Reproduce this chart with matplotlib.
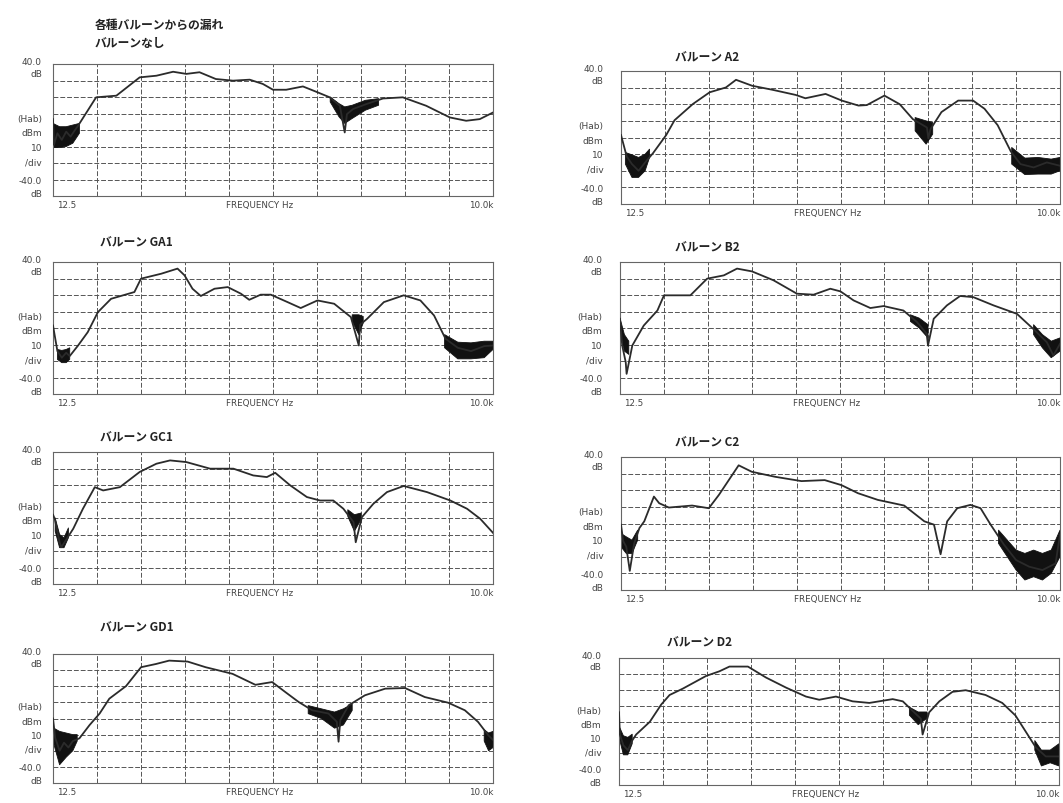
import numpy as np
import matplotlib
matplotlib.use("Agg")
import matplotlib.pyplot as plt

plt.rcParams['font.family'] = ['Noto Sans CJK JP', 'DejaVu Sans']

# x in grid divisions (0 = 12.5 Hz, 10 = 10.0 kHz), y in dB (10 dB/div)
nb_x = [0, 0.02, 0.1, 0.2, 0.3, 0.4, 0.5, 0.57, 0.98, 1.44, 1.97, 2.35, 2.73, 3.03, 3.33, 3.7,
        4.09, 4.47, 4.77, 5.0, 5.3, 5.68, 5.98, 6.29, 6.52, 6.63, 6.68, 6.82, 7.12, 7.5, 7.95,
        8.48, 9.02, 9.39, 9.7, 10]
nb_db = [6.6, -9, -2, -6, -1, -4, 0, 2.6, 19.8, 20.8, 31.9, 32.9, 35.3, 34, 35, 30.9,
         29.9, 30.5, 27.9, 24.4, 24.4, 26.4, 23.2, 19.8, 14.7, -1.5, 9.6, 12.7, 15.7, 19.1, 19.8,
         14.7, 7.6, 5.6, 6.6, 10.6]
nb_nx = [0, 0.15, 0.3, 0.45, 0.6, np.nan, 6.3, 6.5, 6.63, 6.8, 7.1, 7.4]
nb_nlo = [-10.6, -10.6, -10, -8, -2, np.nan, 17, 8, 4, 7, 12, 15]
nb_nhi = [4, 2, 2, 3, 4, np.nan, 20, 16, 14, 15, 18, 19]

ga1_x = [0, 0.1, 0.2, 0.3, 0.38, 0.57, 0.79, 1.02, 1.32, 1.85, 2.0, 2.46, 2.83, 2.99, 3.17,
         3.36, 3.67, 3.97, 4.27, 4.46, 4.72, 4.95, 5.33, 5.63, 6.01, 6.39, 6.77, 6.95, 6.98,
         7.14, 7.52, 7.97, 8.35, 8.66, 8.92, 9.2, 9.5, 9.8, 10]
ga1_db = [1.5, -14, -18, -15, -17, -10.6, -2.5, 9.6, 17.7, 21.8, 29.9, 32.9, 36, 31.9, 23.8,
          19.4, 23.8, 24.8, 20.8, 17.1, 20.2, 20.2, 15.7, 12.1, 16.7, 14.7, 6.6, -10.6, 2,
          5.6, 15.7, 19.8, 16.7, 7.6, -6.5, -12, -14, -11, -10.6]
ga1_nx = [0.1, 0.2, 0.3, 0.38, np.nan, 6.8, 6.95, 7.05, np.nan, 8.9, 9.2, 9.5, 9.8, 10]
ga1_nlo = [-19, -21, -21, -19, np.nan, 4, -4, 3, np.nan, -12, -18.7, -18.7, -18, -13]
ga1_nhi = [-13, -13.6, -13, -12, np.nan, 8, 8, 7, np.nan, -4, -8.6, -9, -8, -8]

gc1_x = [0, 0.04, 0.15, 0.19, 0.46, 0.68, 0.95, 1.14, 1.52, 1.97, 2.35, 2.66, 3.03, 3.57, 4.1,
         4.55, 4.86, 5.05, 5.39, 5.77, 6.07, 6.37, 6.6, 6.83, 6.88, 7.02, 7.28, 7.59, 7.97,
         8.5, 9.03, 9.41, 9.71, 10]
gc1_db = [2, -0.5, -14.7, -17.7, -6.5, 5.6, 18.7, 16.7, 18.7, 27.9, 32.9, 34.9, 33.9, 29.9, 29.9,
          25.8, 24.8, 27.4, 19.8, 12.7, 10.6, 10.6, 5.6, -2.5, -14.7, 0.5, 8.6, 15.7, 19.4,
          15.7, 10.6, 5.6, -0.5, -9]
gc1_nx = [0.05, 0.15, 0.25, 0.35, np.nan, 6.7, 6.85, 7.0]
gc1_nlo = [-8, -18, -18, -12, np.nan, 1, -8, -1]
gc1_nhi = [0, -10, -12, -6, np.nan, 5, 2, 3]

gd1_x = [0, 0.05, 0.15, 0.25, 0.35, 0.45, 0.6, 0.83, 1.06, 1.28, 1.66, 2.0, 2.34, 2.64, 3.06,
         3.47, 4.08, 4.6, 4.98, 5.28, 5.58, 5.89, 6.26, 6.45, 6.49, 6.53, 6.72, 7.09, 7.55,
         8.0, 8.45, 8.98, 9.36, 9.66, 9.89, 10]
gd1_db = [0, -12, -20, -15, -18, -14, -12.3, -4.1, 3.1, 12.3, 20.1, 31.8, 33.8, 35.9, 35.3,
          31.8, 27.7, 20.9, 22.6, 16.4, 10.3, 5.1, 3.1, -2, -14.4, -1, 8.2, 14.4, 18.5,
          18.9, 13.3, 9.8, 5.1, -2.1, -10.3, -13.3]
gd1_nx = [0.02, 0.15, 0.3, 0.45, 0.55, np.nan, 5.8, 6.1, 6.4, 6.6, 6.8, np.nan, 9.8, 9.9, 10]
gd1_nlo = [-16, -28.7, -24, -20, -14, np.nan, 3, 0, -6, -4, 5, np.nan, -14, -20, -18]
gd1_nhi = [-6, -8, -9, -10, -10, np.nan, 8, 6, 4, 6, 9, np.nan, -7, -9, -8]

a2_x = [0, 0.13, 0.25, 0.4, 0.55, 0.73, 1.03, 1.22, 1.64, 2.02, 2.39, 2.62, 2.99, 3.45, 3.98,
        4.2, 4.66, 5.03, 5.41, 5.6, 6.0, 6.35, 6.65, 6.97, 7.0, 7.05, 7.3, 7.68, 8.02, 8.28,
        8.58, 8.88, 9.1, 9.4, 9.7, 10]
a2_db = [1.5, -11.4, -16, -20, -15, -9.4, 1.5, 10.4, 20.2, 27.2, 30.1, 34.7, 31.1, 28.7, 25.6,
         23.6, 26.2, 22.2, 19.2, 19.5, 25.2, 20, 11, 6, -0.5, 5, 15.3, 22.2, 22.2, 17.3,
         7.4, -8.4, -16, -18, -15, -17]
a2_nx = [0.1, 0.25, 0.4, 0.55, 0.65, np.nan, 6.7, 6.95, 7.1, np.nan, 8.9, 9.2, 9.5, 9.8, 10]
a2_nlo = [-16, -24, -24, -20, -12, np.nan, 4, -4, 2, np.nan, -16, -22.3, -22, -22, -20]
a2_nhi = [-9, -10.4, -12, -10, -7, np.nan, 12, 10, 9, np.nan, -6, -12.4, -12, -13, -12]

b2_x = [0, 0.05, 0.13, 0.15, 0.28, 0.54, 0.85, 1.0, 1.6, 1.98, 2.36, 2.66, 3.0, 3.49, 4.02,
        4.4, 4.78, 5.01, 5.31, 5.69, 5.99, 6.44, 6.75, 6.97, 7.0, 7.13, 7.43, 7.73, 8.03,
        8.49, 9.02, 9.39, 9.7, 9.85, 10]
b2_db = [5.6, -10.6, -20.7, -27.8, -10.6, 1.5, 10.6, 19.8, 19.8, 29.9, 31.9, 36, 34.3, 28.9,
         20.8, 20.2, 23.8, 22.2, 16.7, 12.1, 13.3, 10.6, 3.6, -3.5, -10.6, 5.6, 13.7, 19.4,
         18.7, 13.7, 8.6, -0.5, -8.6, -16.7, -9.6]
b2_nx = [0.0, 0.1, 0.2, np.nan, 6.6, 6.8, 7.0, np.nan, 9.4, 9.6, 9.8, 10]
b2_nlo = [-2, -14, -16, np.nan, 4, 0, -6, np.nan, -4, -12, -18, -14]
b2_nhi = [6, -4, -8, np.nan, 8, 6, 2, np.nan, 2, -4, -8, -6]

c2_x = [0, 0.05, 0.12, 0.2, 0.3, 0.42, 0.53, 0.75, 0.87, 1.09, 1.62, 2.0, 2.23, 2.68, 2.98,
        3.51, 4.11, 4.64, 5.02, 5.4, 5.85, 6.45, 6.91, 7.13, 7.28, 7.43, 7.66, 7.96, 8.19,
        8.42, 8.72, 9.0, 9.3, 9.6, 9.9, 10]
c2_db = [-0.7, -10.6, -14, -28.5, -12, -2.7, 1.3, 16.2, 12.2, 9.6, 10.8, 9.2, 17.2, 35.0, 31.1,
         28.1, 25.5, 26.1, 23.1, 18.2, 14.2, 10.8, 1.3, -0.7, -18.5, 1.3, 9.2, 11.2, 9.2,
         -0.7, -12.6, -22, -26, -28, -24, -6.6]
c2_nx = [0.0, 0.12, 0.25, 0.38, np.nan, 8.6, 8.8, 9.0, 9.2, 9.4, 9.6, 9.8, 10]
c2_nlo = [-14, -18, -18, -10, np.nan, -12, -20, -28, -34, -32, -34, -30, -20]
c2_nhi = [-6, -8, -10, -4, np.nan, -4, -10, -16, -18, -16, -18, -16, -4]

d2_x = [0, 0.02, 0.1, 0.2, 0.3, 0.39, 0.7, 0.96, 1.15, 1.45, 1.98, 2.28, 2.51, 2.93, 3.34,
        3.8, 4.25, 4.55, 4.93, 5.31, 5.69, 6.22, 6.45, 6.67, 6.86, 6.9, 7.05, 7.28, 7.58,
        7.88, 8.33, 8.71, 9.01, 9.24, 9.47, 9.7, 10]
d2_db = [5.8, -8.2, -15, -18, -12, -8.2, -0.2, 10.7, 16.7, 20.7, 28.7, 31.6, 34.6, 34.6, 27.7,
         21.3, 15.7, 13.7, 15.7, 12.7, 11.7, 14.1, 12.7, 6.8, 1.8, -8.2, 5.8, 12.7, 18.7,
         19.7, 16.7, 11.7, 3.8, -6.2, -16.2, -22, -22]
d2_nx = [0.02, 0.1, 0.2, 0.3, np.nan, 6.6, 6.8, 7.0, np.nan, 9.45, 9.6, 9.8, 10]
d2_nlo = [-12, -21, -21, -14, np.nan, 4, -2, 2, np.nan, -18, -28, -26, -28]
d2_nhi = [-4, -9, -10, -8, np.nan, 9, 6, 6, np.nan, -12, -18, -18, -14]

titles = ['バルーンなし', 'バルーン GA1', 'バルーン GC1', 'バルーン GD1',
          'バルーン A2', 'バルーン B2', 'バルーン C2', 'バルーン D2']
series = [(nb_x, nb_db, nb_nx, nb_nlo, nb_nhi),
          (ga1_x, ga1_db, ga1_nx, ga1_nlo, ga1_nhi),
          (gc1_x, gc1_db, gc1_nx, gc1_nlo, gc1_nhi),
          (gd1_x, gd1_db, gd1_nx, gd1_nlo, gd1_nhi),
          (a2_x, a2_db, a2_nx, a2_nlo, a2_nhi),
          (b2_x, b2_db, b2_nx, b2_nlo, b2_nhi),
          (c2_x, c2_db, c2_nx, c2_nlo, c2_nhi),
          (d2_x, d2_db, d2_nx, d2_nlo, d2_nhi)]

W, H = 1063, 804
fig = plt.figure(figsize=(W / 100, H / 100), dpi=100)

# panel boxes in pixels: left, top, right, bottom
boxes = [(53, 65, 493, 197), (53, 263, 493, 395), (53, 453, 493, 585), (53, 655, 493, 784),
         (621, 72, 1060, 205), (620, 263, 1060, 395), (621, 458, 1060, 591), (619, 659, 1059, 786)]
title_pos = [(95, 44), (100, 243), (100, 438), (100, 628),
             (675, 58), (675, 248), (675, 443), (667, 643)]

ink = '#2b2b2b'
for i, (box, (x, db, nx, nlo, nhi)) in enumerate(zip(boxes, series)):
    l, t, r, b = box
    ax = fig.add_axes([l / W, 1 - b / H, (r - l) / W, (b - t) / H])
    ax.set_xlim(0, 10)
    ax.set_ylim(-40, 40)
    for d in range(1, 10):
        ax.axvline(d, color='#555555', lw=0.7, ls=(0, (5, 2)), zorder=1)
    for v in range(-30, 40, 10):
        ax.axhline(v, color='#555555', lw=0.7, ls=(0, (5, 2)), zorder=1)
    for s in ax.spines.values():
        s.set_color('#666666')
        s.set_linewidth(0.8)
    ax.set_xticks([])
    ax.set_yticks([])

    nlo = np.array(nlo, dtype=float)
    ax.fill_between(nx, nlo, nhi, where=~np.isnan(nlo), color='#111111', lw=0.6,
                    edgecolor='#111111', zorder=2)
    ax.plot(x, db, color=ink, lw=1.3, zorder=3)

    xl = -0.025 if i < 4 else -0.04
    for yy, txt in [(1.02, '40.0'), (0.93, 'dB'), (0.59, '(Hab)'), (0.48, 'dBm'),
                    (0.37, '10'), (0.26, '/div'), (0.12, '-40.0'), (0.02, 'dB')]:
        ax.text(xl, yy, txt, transform=ax.transAxes, ha='right', va='center',
                fontsize=6.5, color='#444444', family='DejaVu Sans')
    for xx, ha, txt in [(0.01, 'left', '12.5'), (0.47, 'center', 'FREQUENCY Hz'),
                        (1.0, 'right', '10.0k')]:
        ax.text(xx, -0.065, txt, transform=ax.transAxes, ha=ha, va='center',
                fontsize=6.3, color='#444444', family='DejaVu Sans')

    tx, ty = title_pos[i]
    fig.text(tx / W, 1 - ty / H, titles[i], fontsize=8.5, fontweight='bold',
             ha='left', va='center', color='#222222')

fig.text(95 / W, 1 - 25 / H, '各種バルーンからの漏れ', fontsize=8.5, fontweight='bold',
         ha='left', va='center', color='#222222')

fig.savefig('out.png', dpi=100, facecolor='white')
